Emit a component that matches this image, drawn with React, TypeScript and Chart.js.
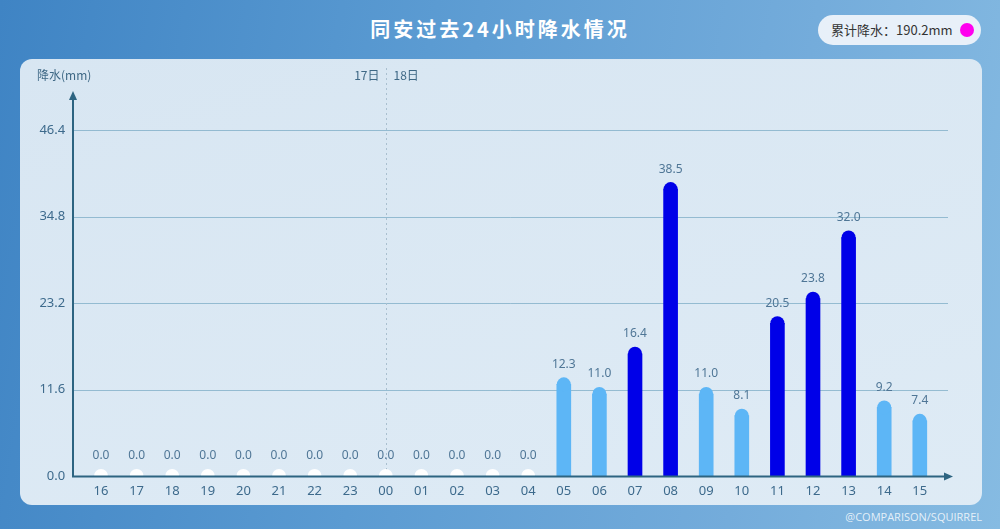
import React, { useEffect, useRef } from "react";
import { Chart, registerables } from "chart.js";

Chart.register(...registerables);

const hours = ["16","17","18","19","20","21","22","23","00","01","02","03","04","05","06","07","08","09","10","11","12","13","14","15"];
const rain = [0,0,0,0,0,0,0,0,0,0,0,0,0,12.3,11.0,16.4,38.5,11.0,8.1,20.5,23.8,32.0,9.2,7.4];
const yTicks = [0, 11.6, 23.2, 34.8, 46.4];
const dayLabels = ["17日", "18日"];
const totalText = "累计降水：190.2mm";
const titleText = "同安过去24小时降水情况";

const LIGHT = "#5db6f6";
const DARK = "#0000e8";
const colorFor = (v: number) => (v >= 15 ? DARK : LIGHT);

export default function App() {
  const ref = useRef<HTMLCanvasElement | null>(null);

  useEffect(() => {
    const canvas = ref.current!;
    const deco = {
      id: "deco",
      beforeDatasetsDraw(chart: any) {
        const ctx = chart.ctx;
        const ys = chart.scales.y;
        const xs = chart.scales.x;
        const area = chart.chartArea;
        const x0 = 73;
        const x1 = 952;
        ctx.save();
        // grid
        ctx.strokeStyle = "rgba(90,150,180,0.55)";
        ctx.lineWidth = 1;
        yTicks.forEach((t) => {
          if (t === 0) return;
          const y = Math.round(ys.getPixelForValue(t)) + 0.5;
          ctx.beginPath();
          ctx.moveTo(x0, y);
          ctx.lineTo(x1 - 4, y);
          ctx.stroke();
        });
        // day divider
        const xd = Math.round(xs.getPixelForValue(8)) + 0.5;
        ctx.strokeStyle = "#a9bfcf";
        ctx.setLineDash([2, 3]);
        ctx.beginPath();
        ctx.moveTo(xd, 68);
        ctx.lineTo(xd, area.bottom);
        ctx.stroke();
        ctx.setLineDash([]);
        ctx.fillStyle = "#3e6885";
        ctx.font = "12px 'Noto Sans CJK SC', 'Noto Sans', sans-serif";
        ctx.textBaseline = "middle";
        ctx.textAlign = "right";
        ctx.fillText(dayLabels[0], xd - 7, 75);
        ctx.textAlign = "left";
        ctx.fillText(dayLabels[1], xd + 7, 75);
        // y title
        ctx.font = "12px 'Noto Sans CJK SC', 'Noto Sans', sans-serif";
        ctx.textAlign = "left";
        ctx.fillText("降水(mm)", 37, 75);
        ctx.restore();
      },
      afterDatasetsDraw(chart: any) {
        const ctx = chart.ctx;
        const area = chart.chartArea;
        const meta = chart.getDatasetMeta(0);
        ctx.save();
        ctx.beginPath();
        ctx.rect(0, 0, chart.width, area.bottom);
        ctx.clip();
        meta.data.forEach((el: any, i: number) => {
          const v = rain[i];
          ctx.fillStyle = v === 0 ? "#ffffff" : colorFor(v);
          ctx.beginPath();
          ctx.arc(el.x, v === 0 ? el.base : el.y, 7, 0, Math.PI * 2);
          ctx.fill();
        });
        ctx.restore();
        // labels
        ctx.save();
        ctx.fillStyle = "#4f7696";
        ctx.font = "12px 'Noto Sans', sans-serif";
        ctx.textAlign = "center";
        ctx.textBaseline = "middle";
        meta.data.forEach((el: any, i: number) => {
          ctx.fillText(rain[i].toFixed(1), el.x, el.y - 20);
        });
        ctx.restore();
        // axes
        const y0 = area.bottom + 0.5;
        ctx.save();
        ctx.strokeStyle = "#2d6481";
        ctx.fillStyle = "#2d6481";
        ctx.lineWidth = 2;
        ctx.beginPath();
        ctx.moveTo(73, area.bottom + 1);
        ctx.lineTo(73, 98);
        ctx.stroke();
        ctx.beginPath();
        ctx.moveTo(73, 91);
        ctx.lineTo(69, 100);
        ctx.lineTo(77, 100);
        ctx.closePath();
        ctx.fill();
        ctx.beginPath();
        ctx.moveTo(72, y0);
        ctx.lineTo(946, y0);
        ctx.stroke();
        ctx.beginPath();
        ctx.moveTo(953, y0);
        ctx.lineTo(944, y0 - 4);
        ctx.lineTo(944, y0 + 4);
        ctx.closePath();
        ctx.fill();
        ctx.restore();
      },
    };

    const chart = new Chart(canvas, {
      type: "bar",
      data: {
        labels: hours,
        datasets: [
          {
            data: rain,
            backgroundColor: rain.map(colorFor),
            borderWidth: 0,
            barThickness: 14,
          },
        ],
      },
      options: {
        animation: false,
        responsive: false,
        maintainAspectRatio: false,
        layout: { padding: { left: 0, right: 62.4, top: 87, bottom: 0 } },
        plugins: { legend: { display: false }, tooltip: { enabled: false } },
        scales: {
          x: {
            grid: { display: false, drawTicks: false },
            border: { display: false },
            ticks: {
              color: "#3d6a8c",
              font: { size: 13, family: "'Noto Sans', sans-serif" },
              padding: 7,
              maxRotation: 0,
              autoSkip: false,
            },
            afterFit(scale: any) {
              scale.height = 53;
            },
          },
          y: {
            min: 0,
            max: 52.2,
            grid: { display: false, drawTicks: false },
            border: { display: false },
            afterBuildTicks(scale: any) {
              scale.ticks = yTicks.map((v) => ({ value: v }));
            },
            ticks: {
              color: "#3d6a8c",
              font: { size: 13, family: "'Noto Sans', sans-serif" },
              padding: 18,
              callback: (v: any) => Number(v).toFixed(1),
            },
            afterFit(scale: any) {
              scale.width = 83.2;
            },
          },
        },
      },
      plugins: [deco],
    } as any);
    return () => chart.destroy();
  }, []);

  return (
    <div
      style={{
        position: "fixed",
        left: 0,
        top: 0,
        width: 1000,
        height: 529,
        overflow: "hidden",
        background: "linear-gradient(100deg, #3f84c4 0%, #5b9bd2 40%, #74acdb 75%, #86bbe2 100%)",
        fontFamily: "'Noto Sans CJK SC', 'Noto Sans', sans-serif",
      }}
    >
      <div
        style={{
          position: "absolute",
          left: 0,
          width: 1000,
          top: 14,
          textAlign: "center",
          color: "#ffffff",
          fontSize: 20,
          fontWeight: 700,
          letterSpacing: 3,
          lineHeight: "30px",
        }}
      >
        {titleText}
      </div>
      <div
        style={{
          position: "absolute",
          left: 818,
          top: 15,
          width: 163,
          height: 30,
          borderRadius: 15,
          background: "rgba(236,243,250,0.96)",
          color: "#333",
          fontSize: 13,
          lineHeight: "30px",
          paddingLeft: 13,
          boxSizing: "border-box",
        }}
      >
        {totalText}
        <span
          style={{
            position: "absolute",
            left: 142,
            top: 8,
            width: 14,
            height: 14,
            borderRadius: 7,
            background: "#ff00ee",
          }}
        />
      </div>
      <div
        style={{
          position: "absolute",
          left: 20,
          top: 59,
          width: 962,
          height: 446,
          borderRadius: 12,
          background: "linear-gradient(180deg, rgba(222,234,244,0.96), rgba(226,237,246,0.96))",
        }}
      />
      <div
        style={{
          position: "absolute",
          right: 18,
          top: 509,
          color: "rgba(255,255,255,0.8)",
          fontSize: 11,
          fontFamily: "'Open Sans', 'Noto Sans', sans-serif",
        }}
      >
        @COMPARISON/SQUIRREL
      </div>
      <canvas ref={ref} width={1000} height={529} style={{ position: "absolute", left: 0, top: 0 }} />
    </div>
  );
}
